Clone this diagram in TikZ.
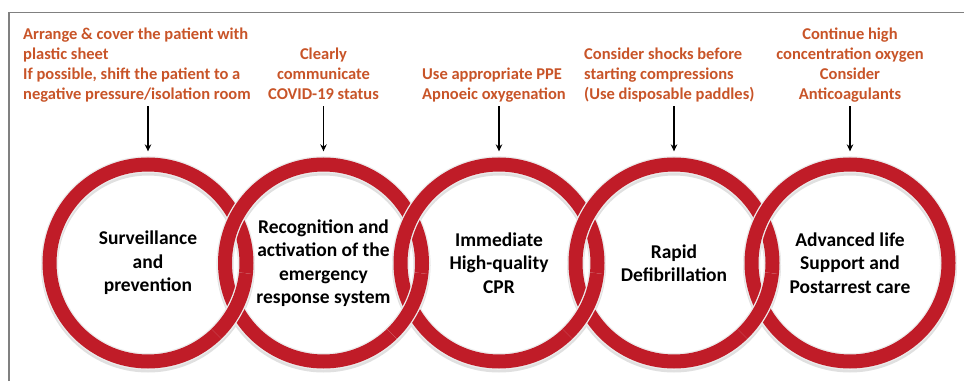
\documentclass[tikz,border=0pt]{standalone}
\usepackage{fontspec}
\setmainfont{Carlito}
\usetikzlibrary{arrows.meta}
\definecolor{ringred}{RGB}{192,28,40}
\definecolor{ringedge}{RGB}{236,236,236}
\definecolor{notecol}{RGB}{200,84,40}
\begin{document}
\begin{tikzpicture}[x=1pt,y=1pt,
  link/.style={circle,minimum size=197pt,inner sep=0pt,align=center,
    draw=ringedge,line width=1.3pt,double=ringred,double distance=14pt,
    font=\fontsize{19.5}{23.5}\selectfont\bfseries},
  ringarc/.style={draw=ringedge,line width=1.3pt,double=ringred,double distance=14pt},
  note/.style={inner sep=0pt,text=notecol,font=\fontsize{16.5}{20}\selectfont\bfseries},
  arr/.style={-{Stealth[length=7pt,width=6.5pt]},line width=1.3pt,shorten >=12.5pt}]
\useasboundingbox (0,0) rectangle (964,381);
\draw[gray,line width=1.2pt] (9,0) -- (9,368.5) -- (964,368.5);

% soft shadow under the rings
\foreach \x in {148,323.5,499,674,850}
  \draw[black!12,line width=17pt] (\x,115.5) circle (98.5);

% chain of rings
\node[link] (c1) at (148,118) {Surveillance\\and\\prevention};
\node[link] (c2) at (323.5,118) {Recognition and\\activation of the\\emergency\\response system};
\node[link] (c3) at (499,118) {Immediate\\High-quality\\CPR};
\node[link] (c4) at (674,118) {Rapid\\Defibrillation};
\node[link] (c5) at (850,118) {Advanced life\\Support and\\Postarrest care};

% left ring passes over at the lower crossing
\foreach \i in {1,...,4}
  \draw[ringarc] (c\i.center) ++(-46:98.5) arc[start angle=-46,end angle=-6,radius=98.5];

% notes above each ring
\node[note,anchor=north west,align=left] (n1) at (23,353)
  {Arrange \& cover the patient with\\plastic sheet\\If possible, shift the patient to a\\negative pressure/isolation room};
\node[note,anchor=north,align=center] (n2) at (323.5,333)
  {Clearly\\communicate\\COVID-19 status};
\node[note,anchor=north west,align=left] (n3) at (422,313)
  {Use appropriate PPE\\Apnoeic oxygenation};
\node[note,anchor=north west,align=left] (n4) at (584,333)
  {Consider shocks before\\starting compressions\\(Use disposable paddles)};
\node[note,anchor=north,align=center] (n5) at (850,353)
  {Continue high\\concentration oxygen\\Consider\\Anticoagulants};

\foreach \i in {1,...,5} {
  \coordinate (a\i) at ([yshift=57.5pt]c\i.north);
  \draw[arr] (a\i) -- (c\i.north);
}
\end{tikzpicture}
\end{document}
